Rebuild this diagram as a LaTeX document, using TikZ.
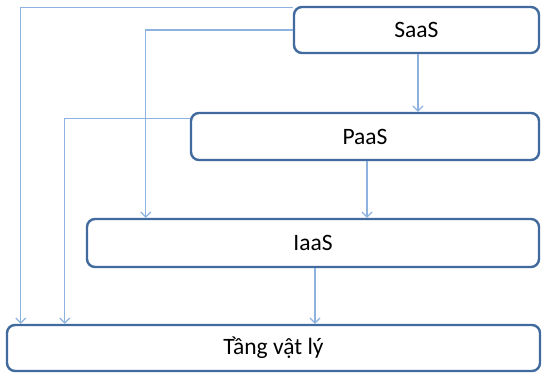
\documentclass[tikz,border=0pt]{standalone}
\usepackage{fontspec}
\setmainfont{Carlito}
\usetikzlibrary{arrows.meta}
\definecolor{boxblue}{RGB}{65,106,158}
\definecolor{lineblue}{RGB}{141,178,224}
\begin{document}
\begin{tikzpicture}[x=1pt, y=-1pt,
    b/.style={draw=boxblue, line width=2.4pt, rounded corners=8pt, fill=white,
        font=\fontsize{23.5}{28}\selectfont, inner sep=0pt},
    c/.style={draw=lineblue, line width=1.2pt, -{Straight Barb[length=5pt,width=10pt]}}
]
    \useasboundingbox (0,0) rectangle (542,378);

    \node[b, minimum width=245pt, minimum height=46pt] (saas) at (416.5,30) {SaaS};
    \node[b, minimum width=348pt, minimum height=47pt] (paas) at (365,136.5) {PaaS};
    \node[b, minimum width=452pt, minimum height=48pt] (iaas) at (313,243) {IaaS};
    \node[b, minimum width=533pt, minimum height=46pt] (tang) at (273.5,348) {Tầng vật lý};

    \draw[c] ([yshift=-1.5pt]saas.north west) -| ([xshift=15pt]tang.north west);
    \draw[c] (saas.west) -| ([xshift=60pt]iaas.north west);
    \draw[c] ([xshift=1.5pt]saas.south) -- ([xshift=1.5pt]saas.south |- paas.north);
    \draw[c] ([yshift=-6.5pt]paas.north west) -| ([xshift=59pt]tang.north west);
    \draw[c] ([xshift=2pt]paas.south) -- ([xshift=2pt]paas.south |- iaas.north);
    \draw[c] ([xshift=2pt]iaas.south) -- ([xshift=2pt]iaas.south |- tang.north);
\end{tikzpicture}
\end{document}
